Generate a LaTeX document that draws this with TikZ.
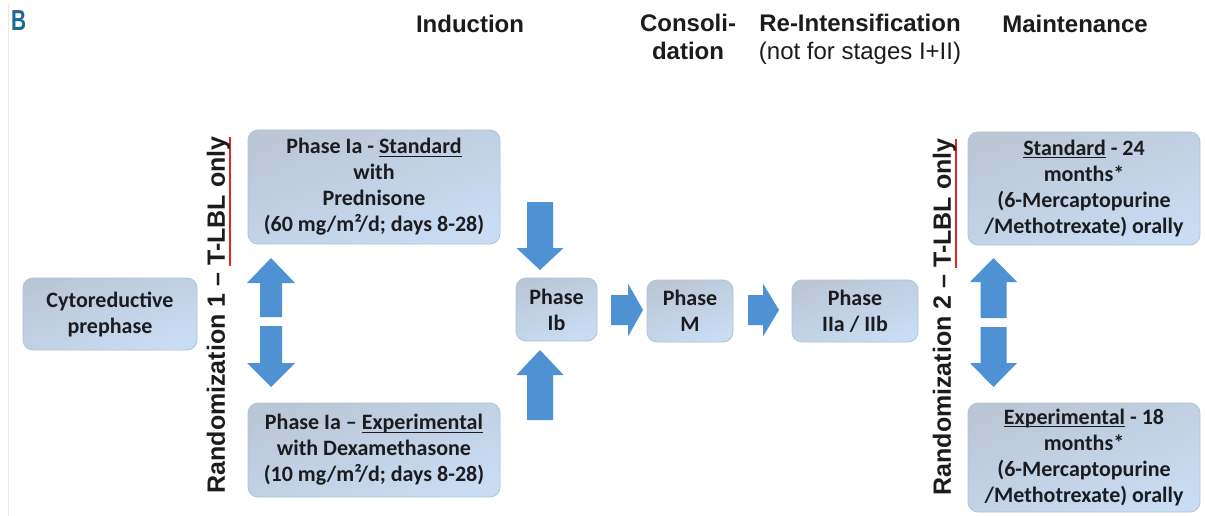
\documentclass[tikz,border=0pt]{standalone}
\usepackage{fontspec}
\usepackage{graphicx}
\newfontfamily\boxfont{Carlito}
\newfontfamily\hdfont{Liberation Sans}

\definecolor{arrowblue}{RGB}{78,146,212}
\definecolor{bxtop}{RGB}{188,199,214}
\definecolor{bxbot}{RGB}{200,220,243}
\definecolor{bxedge}{RGB}{176,195,218}
\definecolor{bxtext}{RGB}{28,28,30}
\definecolor{ulred}{RGB}{230,36,36}
\definecolor{panelblue}{RGB}{25,105,145}
\definecolor{marginline}{RGB}{246,230,216}

% red rule under part of the randomisation labels
\newcommand\redul[1]{\setbox0\hbox{#1}\rlap{\color{ulred}\rule[-6.5pt]{\wd0}{2pt}}\box0\relax}
% thin underline inside the phase boxes
\newcommand\boxul[1]{\setbox0\hbox{#1}\rlap{\rule[-3pt]{\wd0}{1pt}}\box0\relax}

% vertical block arrow: x, tail y, head-base y, tip y, half shaft, half head
\newcommand\vblock[6]{%
  \fill[arrowblue] ({#1-#5},#2) -- ({#1-#5},#3) -- ({#1-#6},#3) -- (#1,#4)
    -- ({#1+#6},#3) -- ({#1+#5},#3) -- ({#1+#5},#2) -- cycle;}
% horizontal block arrow: y, tail x, head-base x, tip x, half shaft, half head
\newcommand\hblock[6]{%
  \fill[arrowblue] (#2,{#1-#5}) -- (#3,{#1-#5}) -- (#3,{#1-#6}) -- (#4,#1)
    -- (#3,{#1+#6}) -- (#3,{#1+#5}) -- (#2,{#1+#5}) -- cycle;}

\begin{document}
\begin{tikzpicture}[x=1pt,y=-1pt,
  phasebox/.style={draw=bxedge, line width=0.8pt, rounded corners=10pt,
    top color=bxtop, bottom color=bxbot, shading angle=20,
    text=bxtext, align=center, inner sep=0pt,
    font=\boxfont\bfseries\fontsize{22}{26}\selectfont},
  hdr/.style={text=bxtext, align=center, inner sep=0pt,
    font=\hdfont\bfseries\fontsize{24}{28}\selectfont},
  randlabel/.style={text=bxtext, inner sep=0pt, rotate=90,
    font=\hdfont\bfseries\fontsize{25}{28}\selectfont}]

\fill[white] (0,0) rectangle (1205,516);
\useasboundingbox (0,0) rectangle (1205,516);
\draw[marginline, line width=1.2pt] (8.5,4) -- (8.5,516);

% panel letter
\node[anchor=base west, inner sep=0pt, text=panelblue,
  font=\hdfont\bfseries\fontsize{29}{30}\selectfont] (panel) at (11,31)
  {\scalebox{0.72}[1]{B}};

% column headings (multi-line ones are placed by the baseline of their last line)
\node[hdr, anchor=base] (hind) at (470,33) {Induction};
\node[hdr, anchor=base] (hcons) at (688,60) {Consoli-\\dation};
\node[hdr, anchor=base] (hreint) at (860,60) {Re-Intensification\\{\mdseries(not for stages I+II)}};
\node[hdr, anchor=base] (hmaint) at (1075,33) {Maintenance};

% phase boxes
\node[phasebox, minimum width=174pt, minimum height=72pt] (cyto) at (110,314)
  {Cytoreductive\\prephase};
\node[phasebox, minimum width=252pt, minimum height=114pt] (iastd) at (374,187)
  {Phase Ia - \boxul{Standard}\\with\\Prednisone\\(60 mg/m²/d; days 8-28)};
\node[phasebox, minimum width=252pt, minimum height=94pt] (iaexp) at (374,450)
  {Phase Ia – \boxul{Experimental}\\with Dexamethasone\\(10 mg/m²/d; days 8-28)};
\node[phasebox, minimum width=81pt, minimum height=63pt] (ib) at (556.5,309.5)
  {Phase\\Ib};
\node[phasebox, minimum width=86pt, minimum height=62pt] (m) at (690,311)
  {Phase\\M};
\node[phasebox, minimum width=126pt, minimum height=62pt] (iia) at (855,311)
  {Phase\\IIa / IIb};
\node[phasebox, minimum width=232pt, minimum height=113pt] (mstd) at (1084,188.5)
  {\boxul{Standard} - 24\\months*\\(6-Mercaptopurine\\/Methotrexate) orally};
\node[phasebox, minimum width=232pt, minimum height=109pt] (mexp) at (1084,457.5)
  {\boxul{Experimental} - 18\\months*\\(6-Mercaptopurine\\/Methotrexate) orally};

% randomisation labels
\node[randlabel] (rand1) at (219,315) {Randomization 1 – \redul{T-LBL only}};
\node[randlabel] (rand2) at (945,317) {Randomization 2 – \redul{T-LBL only}};

% randomisation 1 arrows
\vblock{271}{317}{283}{258}{11}{24}
\vblock{271}{326}{363}{387}{11}{24}
% arrows into phase Ib
\vblock{540}{202}{248}{270}{13}{23.5}
\vblock{540}{420}{375}{350}{13}{23.5}
% arrows along the main sequence
\hblock{310}{611}{628}{643}{15}{26.5}
\hblock{310}{748}{763}{779}{15}{26.5}
% randomisation 2 arrows
\vblock{993.5}{318}{282}{258}{13}{23.5}
\vblock{993.5}{327}{363}{387}{13}{23.5}

\end{tikzpicture}
\end{document}
